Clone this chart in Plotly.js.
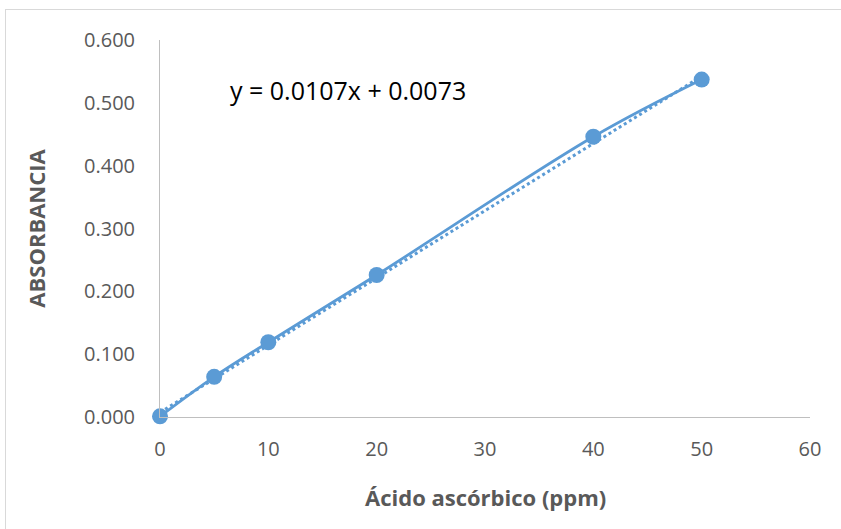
<!DOCTYPE html>
<html><head><meta charset="utf-8">
<script src="https://cdn.plot.ly/plotly-3.0.1.min.js"></script>
<style>
html,body{margin:0;padding:0;background:#fff;}
#frame{position:absolute;left:5px;top:9px;width:840px;height:525px;border:1px solid #d9d9d9;box-sizing:border-box;}
#chart{position:absolute;left:0;top:0;width:841px;height:529px;}
</style></head>
<body>
<div id="frame"></div>
<div id="chart"></div>
<script>
const concentration = [0, 5, 10, 20, 40, 50];
const absorbance = [0.001, 0.064, 0.119, 0.226, 0.446, 0.537];
const trendX = [0, 50];
const trendY = [0.0073, 0.5423];
const equationText = 'y = 0.0107x + 0.0073';
const xTicks = [0, 10, 20, 30, 40, 50, 60];
const yTicks = [0, 0.1, 0.2, 0.3, 0.4, 0.5, 0.6];
const xTitle = 'Ácido ascórbico (ppm)';
const yTitle = 'ABSORBANCIA';

const blue = '#5b9bd5';
const data = [
  {x: trendX, y: trendY, mode: 'lines', line: {color: blue, width: 3, dash: 'dot'}, hoverinfo: 'skip'},
  {x: concentration, y: absorbance, mode: 'lines+markers', line: {color: blue, width: 2.8, shape: 'spline'}, marker: {color: blue, size: 16}, cliponaxis: false}
];
const fontFam = 'Open Sans, Liberation Sans, sans-serif';
const layout = {
  width: 841, height: 529,
  margin: {l: 160, r: 31, t: 40, b: 112},
  paper_bgcolor: 'rgba(0,0,0,0)', plot_bgcolor: 'rgba(0,0,0,0)',
  showlegend: false,
  font: {family: fontFam, color: '#595959', size: 20},
  xaxis: {range: [0, 60], tickvals: xTicks, ticktext: xTicks.map(String), showgrid: false, zeroline: false,
    showline: true, linecolor: '#bfbfbf', linewidth: 1, ticks: '', ticklabelstandoff: 14,
    tickfont: {size: 20, color: '#595959'}},
  yaxis: {range: [0, 0.6], tickvals: yTicks, ticktext: yTicks.map(v => v.toFixed(3)), showgrid: false, zeroline: false,
    showline: true, linecolor: '#bfbfbf', linewidth: 1, ticks: '', ticklabelstandoff: 20,
    tickfont: {size: 20, color: '#595959'}},
  annotations: [
    {xref: 'paper', yref: 'paper', x: 0.105, y: 0.867, xanchor: 'left', yanchor: 'middle',
     text: equationText, showarrow: false, font: {size: 25, color: '#000'}},
    {xref: 'paper', yref: 'paper', x: 0.5, y: -0.212, xanchor: 'center', yanchor: 'middle',
     text: '<b>' + xTitle + '</b>', showarrow: false, font: {size: 22, color: '#595959'}},
    {xref: 'paper', yref: 'paper', x: -0.192, y: 0.5, xanchor: 'center', yanchor: 'middle', textangle: -90,
     text: '<b>' + yTitle + '</b>', showarrow: false, font: {size: 22, color: '#595959'}}
  ]
};
Plotly.newPlot('chart', data, layout, {displayModeBar: false, staticPlot: true});
</script>
</body></html>
